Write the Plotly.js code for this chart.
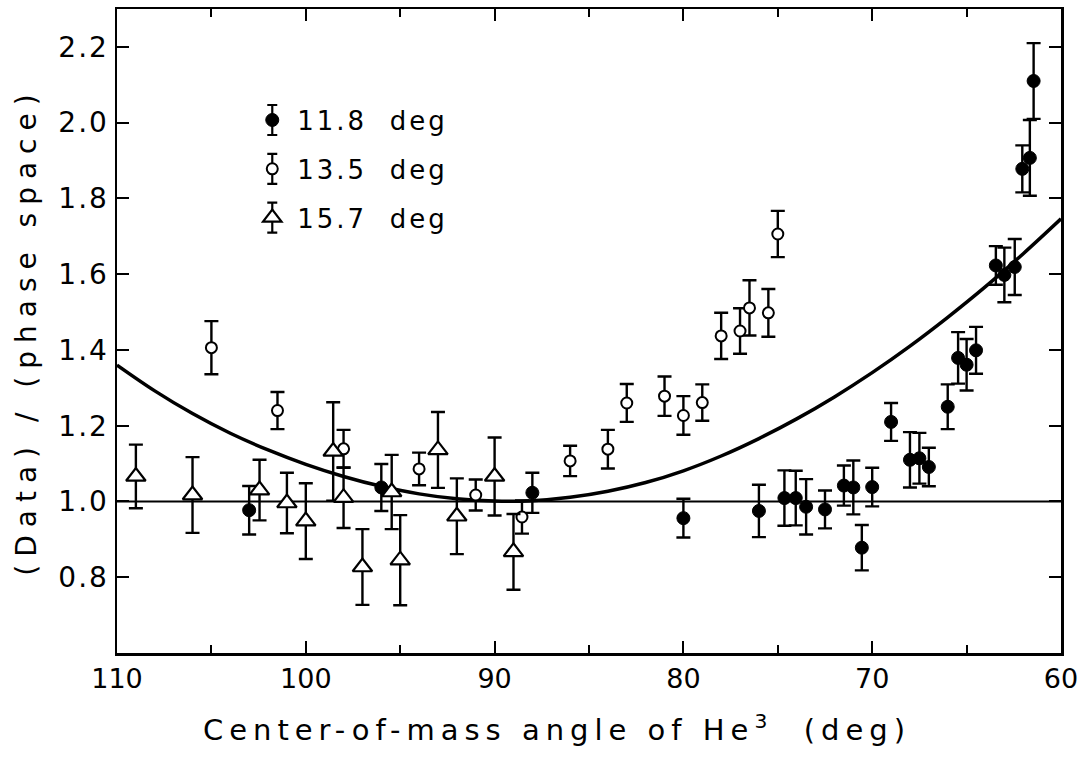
<!DOCTYPE html>
<html>
<head>
<meta charset="utf-8">
<script src="https://cdn.plot.ly/plotly-3.0.1.min.js"></script>
<style>
  html, body { margin: 0; padding: 0; background: #fff; }
  #chart { width: 1078px; height: 760px; }
  .xtitle { letter-spacing: 6px; transform: translate(-32px, 0px); }
  .ytitle { letter-spacing: 8px; }
  .legendtext { letter-spacing: 3px; }
  .ytick text { letter-spacing: 2px; }
</style>
</head>
<body>
<div id="chart"></div>
<script>
// ---- Data ----
// 11.8 deg (filled circles)
const angle118 = [103, 96, 88, 80, 76, 74.65, 74.05, 73.5, 72.5, 71.5, 71, 70.55, 70, 69, 68, 67.5, 67, 66, 65.45, 65, 64.5, 63.45, 63, 62.45, 62.05, 61.65, 61.45];
const ratio118 = [0.977, 1.037, 1.023, 0.956, 0.975, 1.009, 1.009, 0.986, 0.979, 1.042, 1.037, 0.878, 1.038, 1.21, 1.11, 1.114, 1.091, 1.25, 1.379, 1.361, 1.399, 1.623, 1.598, 1.619, 1.878, 1.907, 2.11];
const err118 = [0.064, 0.062, 0.053, 0.051, 0.069, 0.073, 0.072, 0.073, 0.05, 0.053, 0.071, 0.06, 0.051, 0.05, 0.073, 0.067, 0.051, 0.059, 0.068, 0.068, 0.062, 0.051, 0.072, 0.074, 0.062, 0.10, 0.10];

// 13.5 deg (open circles)
const angle135 = [105, 101.5, 98, 94, 91, 88.55, 86, 84, 83, 81, 80, 79, 78, 77, 76.5, 75.5, 75];
const ratio135 = [1.406, 1.24, 1.139, 1.086, 1.017, 0.959, 1.107, 1.138, 1.26, 1.278, 1.227, 1.261, 1.437, 1.45, 1.511, 1.498, 1.706];
const err135 = [0.07, 0.049, 0.05, 0.043, 0.041, 0.044, 0.04, 0.051, 0.05, 0.052, 0.051, 0.048, 0.061, 0.06, 0.073, 0.063, 0.061];

// 15.7 deg (open triangles)
const angle157 = [109, 106, 102.45, 101, 100, 98.55, 98, 97, 95.45, 95, 93, 92, 90, 89];
const ratio157 = [1.066, 1.017, 1.03, 0.996, 0.948, 1.132, 1.01, 0.827, 1.025, 0.845, 1.136, 0.961, 1.066, 0.867];
const err157 = [0.084, 0.10, 0.08, 0.08, 0.10, 0.13, 0.08, 0.10, 0.098, 0.119, 0.10, 0.10, 0.103, 0.10];

// Smooth curve
const curveAngle = [110, 108, 106, 104, 102, 100, 98, 96, 94, 92, 90, 88, 86, 84, 82, 80, 78, 76, 74, 72, 70, 68, 66, 64, 62, 60];
const curveRatio = [1.36, 1.292, 1.232, 1.180, 1.136, 1.098, 1.066, 1.040, 1.020, 1.007, 1.001, 1.002, 1.011, 1.027, 1.050, 1.081, 1.120, 1.166, 1.218, 1.276, 1.340, 1.410, 1.486, 1.567, 1.654, 1.746];

// Reference level
const unityRatio = 1.0;

// Axis ticks
const xTickVals = [110, 100, 90, 80, 70, 60];
const xTickText = ['110', '100', '90', '80', '70', '60'];
const xMinorTickVals = [105, 95, 85, 75, 65];
const yTickVals = [0.8, 1.0, 1.2, 1.4, 1.6, 1.8, 2.0, 2.2];
const yTickText = ['0.8', '1.0', '1.2', '1.4', '1.6', '1.8', '2.0', '2.2'];

const seriesNames = ['11.8\u00a0\u00a0deg', '13.5\u00a0\u00a0deg', '15.7\u00a0\u00a0deg'];

// ---- Styles ----
const FONT = 'DejaVu Sans, sans-serif';
const errStyle = (arr) => ({ type: 'data', array: arr, visible: true, color: '#000', thickness: 2.4, width: 7 });

const traces = [
  {
    x: curveAngle, y: curveRatio, type: 'scatter', mode: 'lines',
    line: { color: '#000', width: 3.5, shape: 'spline', smoothing: 1 },
    showlegend: false, hoverinfo: 'skip'
  },
  {
    x: angle118, y: ratio118, error_y: errStyle(err118), type: 'scatter', mode: 'markers',
    name: seriesNames[0], legendgroup: 'a',
    marker: { symbol: 'circle', size: 13, color: '#000', line: { color: '#000', width: 1 } }
  },
  {
    x: angle135, y: ratio135, error_y: errStyle(err135), type: 'scatter', mode: 'markers',
    name: seriesNames[1], legendgroup: 'b',
    marker: { symbol: 'circle', size: 11, color: '#fff', line: { color: '#000', width: 2 } }
  },
  {
    x: angle157, y: ratio157, error_y: errStyle(err157), type: 'scatter', mode: 'markers',
    name: seriesNames[2], legendgroup: 'c',
    marker: { symbol: 'triangle-up', size: 17, color: '#fff', line: { color: '#000', width: 2.2 } }
  }
];

const axisCommon = {
  showline: true, linecolor: '#000', linewidth: 2.5, mirror: 'ticks',
  ticks: 'inside', ticklen: 12, tickwidth: 2, tickcolor: '#000',
  showgrid: false, zeroline: false, ticklabeloverflow: 'allow',
  tickfont: { family: FONT, size: 28, color: '#000' }
};

const layout = {
  width: 1078, height: 760,
  paper_bgcolor: '#fff', plot_bgcolor: '#fff',
  margin: { l: 117, r: 17, t: 9, b: 107 },
  font: { family: FONT, color: '#000' },
  xaxis: Object.assign({}, axisCommon, {
    range: [110, 60], autorange: false,
    tickmode: 'array', tickvals: xTickVals, ticktext: xTickText,
    tickfont: { family: FONT, size: 27, color: '#000' },
    minor: { tickmode: 'array', tickvals: xMinorTickVals, ticks: 'inside', ticklen: 8, tickwidth: 2, tickcolor: '#000', showgrid: false },
    title: { text: 'Center-of-mass angle of He<sup>3</sup>\u00a0\u00a0(deg)', font: { family: FONT, size: 29, color: '#000' }, standoff: 27 }
  }),
  yaxis: Object.assign({}, axisCommon, {
    range: [0.6, 2.3], autorange: false,
    tickmode: 'array', tickvals: yTickVals, ticktext: yTickText,
    title: { text: '\u00a0(Data) / (phase space)', font: { family: FONT, size: 28, color: '#000' }, standoff: 14 }
  }),
  shapes: [{
    type: 'line', xref: 'paper', x0: 0, x1: 1, yref: 'y', y0: unityRatio, y1: unityRatio,
    line: { color: '#000', width: 2 }, layer: 'below'
  }],
  showlegend: true,
  legend: {
    x: 0.138, y: 0.864, xanchor: 'left', yanchor: 'top',
    bgcolor: 'rgba(0,0,0,0)', borderwidth: 0,
    font: { family: FONT, size: 26, color: '#000' },
    tracegroupgap: 12, itemwidth: 40
  }
};

Plotly.newPlot('chart', traces, layout, { displayModeBar: false, staticPlot: true }).then(function (gd) {
  // Give each legend key an error-bar glyph like the reference key, centred on the key's marker
  const keys = gd.querySelectorAll('.legend .traces .legendpoints');
  keys.forEach(function (g) {
    const pt = g.querySelector('path.scatterpts');
    const p = document.createElementNS('http://www.w3.org/2000/svg', 'path');
    p.setAttribute('d', 'M0,-15V15M-5,-15H5M-5,15H5');
    p.setAttribute('stroke', '#000');
    p.setAttribute('stroke-width', '2.2');
    p.setAttribute('fill', 'none');
    if (pt && pt.getAttribute('transform')) p.setAttribute('transform', pt.getAttribute('transform'));
    g.insertBefore(p, g.firstChild);
  });
});
</script>
</body>
</html>
